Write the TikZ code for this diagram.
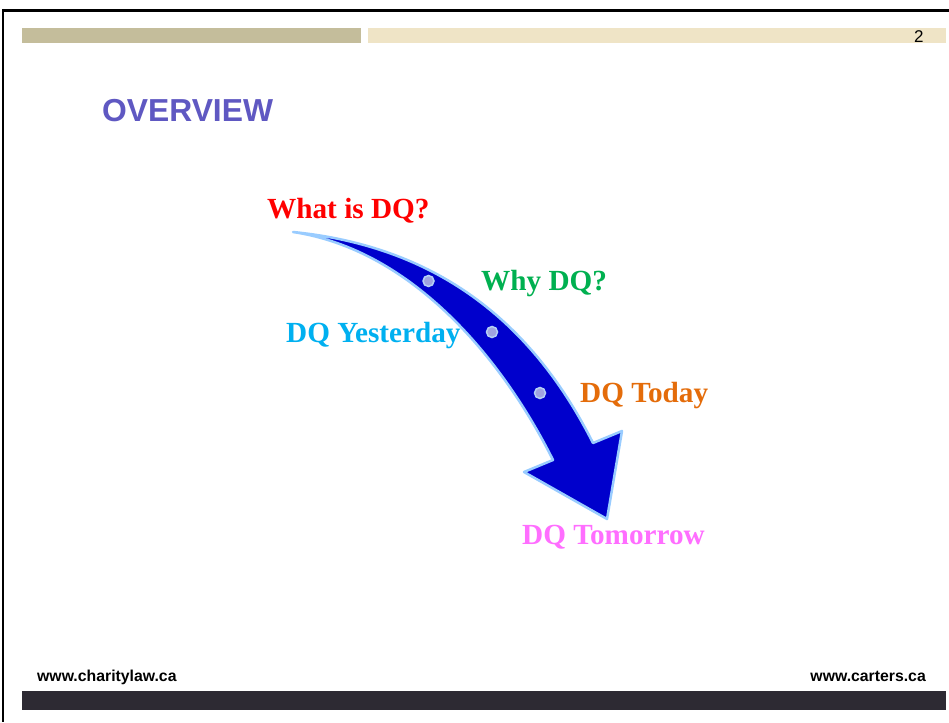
\documentclass[tikz,border=0pt]{standalone}
\usepackage{fontspec}
\setmainfont{Liberation Serif}
\setsansfont{Liberation Sans}
\begin{document}
\begin{tikzpicture}[x=1pt,y=-1pt,
  label/.style={anchor=base west,inner sep=0pt,font=\rmfamily\bfseries\fontsize{29.2}{31}\selectfont},
  foot/.style={inner sep=0pt,font=\sffamily\bfseries\fontsize{15.8}{17}\selectfont},
  stop/.style={circle,inner sep=0pt,minimum size=11pt,fill=dotfill,draw=dotline,line width=1.5pt}]
\definecolor{barleft}{HTML}{C4BD9B}
\definecolor{barright}{HTML}{EFE4C6}
\definecolor{footbar}{HTML}{2D2A33}
\definecolor{titlecol}{HTML}{5F58C2}
\definecolor{arrowfill}{HTML}{0000CC}
\definecolor{arrowline}{HTML}{99CCFF}
\definecolor{dotfill}{HTML}{A0A3E0}
\definecolor{dotline}{HTML}{B5D0F5}
\definecolor{qgreen}{HTML}{00B050}
\definecolor{qcyan}{HTML}{00B0F0}
\definecolor{qorange}{HTML}{E46C0A}
\definecolor{qpink}{HTML}{FF6EFF}

% page
\fill[white] (0,0) rectangle (949,722);
\useasboundingbox (0,0) rectangle (949,722);
\draw[black,line width=3pt] (2,10.5) -- (949,10.5);
\draw[black,line width=2pt] (3,9) -- (3,722);

% header bars
\fill[barleft] (22,28) rectangle (361,43);
\fill[barright] (368,28) rectangle (946,43);
\node[anchor=base west,inner sep=0pt,font=\sffamily\fontsize{17}{18}\selectfont] (pagenum) at (914,43) {2};

% title
\node[anchor=base west,inner sep=0pt,text=titlecol,font=\sffamily\bfseries\fontsize{31.8}{33}\selectfont] (title) at (102,122) {OVERVIEW};

% curved arrow
\draw[fill=arrowfill,draw=arrowline,line width=2.5pt,line join=round]
  (293,232) .. controls (443,247) and (535,328) .. (593,443)
  -- (622,431) -- (607,519) -- (524,472) -- (553,460)
  .. controls (503,360) and (413,250) .. (293,232) -- cycle;

% stops along the arrow
\node[stop] (s1) at (428.5,281) {};
\node[stop] (s2) at (492,332) {};
\node[stop] (s3) at (540,393) {};

% labels
\node[label,text=red] (what) at (267,218) {What is DQ?};
\node[label,text=qgreen] (why) at (481,290) {Why DQ?};
\node[label,text=qcyan] (yest) at (286,342) {DQ Yesterday};
\node[label,text=qorange] (today) at (580,402) {DQ Today};
\node[label,text=qpink] (tomo) at (522,544) {DQ Tomorrow};

% footer
\node[foot,anchor=base west] (fl) at (37,681) {www.charitylaw.ca};
\node[foot,anchor=base east] (fr) at (926,681) {www.carters.ca};
\fill[footbar] (22,691) rectangle (946,710);
\end{tikzpicture}
\end{document}
